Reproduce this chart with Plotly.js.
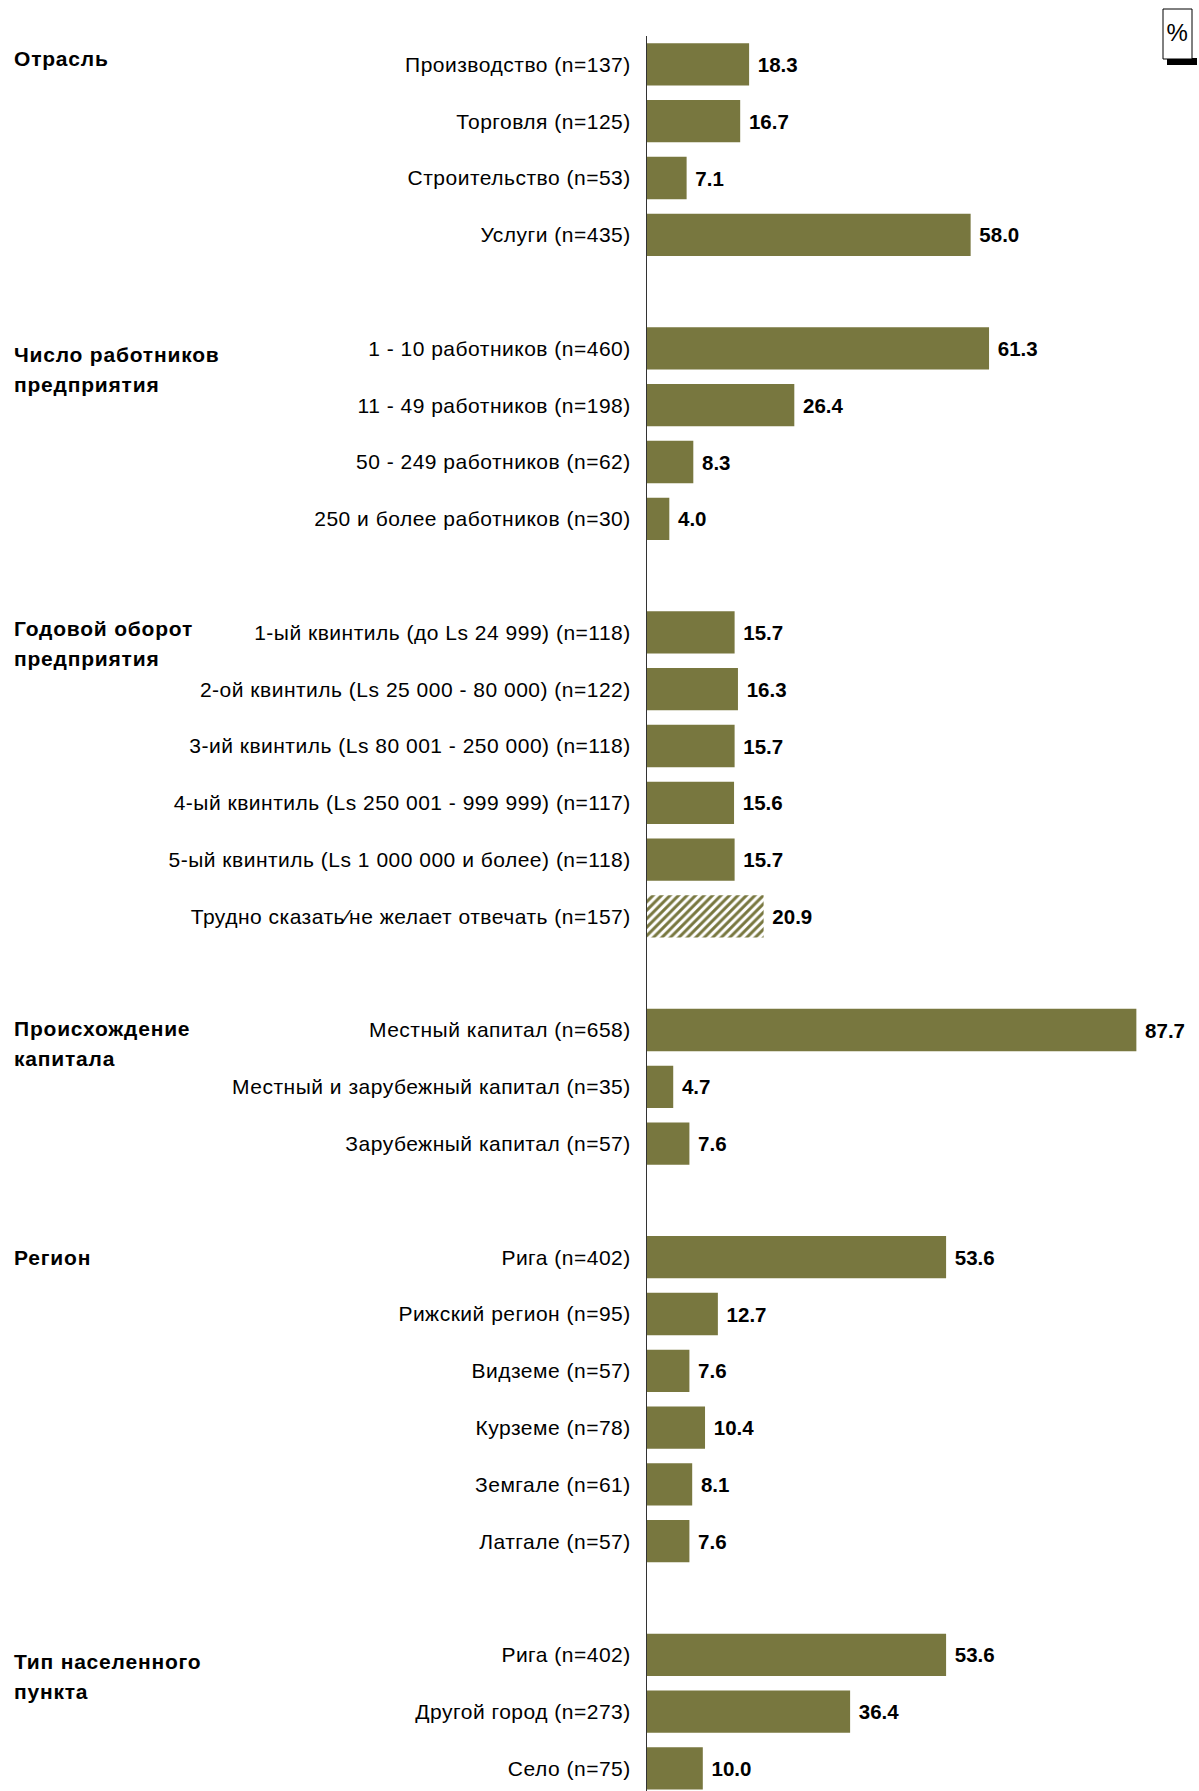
<!DOCTYPE html>
<html>
<head>
<meta charset="utf-8">
<script src="https://cdn.plot.ly/plotly-3.0.1.min.js"></script>
<style>
html,body{margin:0;padding:0;background:#fff;overflow:hidden;}
#chart{width:1199px;height:1791px;}
#chart .ytick text{letter-spacing:0.5px;}
#chart .annotation-text{letter-spacing:0.8px;}
</style>
</head>
<body>
<div id="chart"></div>
<script>
// ---- data ----
var groupTitles = [
  ["Отрасль"],
  ["Число работников", "предприятия"],
  ["Годовой оборот", "предприятия"],
  ["Происхождение", "капитала"],
  ["Регион"],
  ["Тип населенного", "пункта"]
];
var groupLabels = [
  ["Производство (n=137)", "Торговля (n=125)", "Строительство (n=53)", "Услуги (n=435)"],
  ["1 - 10 работников (n=460)", "11 - 49 работников (n=198)", "50 - 249 работников (n=62)", "250 и более работников (n=30)"],
  ["1-ый квинтиль (до Ls 24 999) (n=118)", "2-ой квинтиль (Ls 25 000 - 80 000) (n=122)", "3-ий квинтиль (Ls 80 001 - 250 000) (n=118)", "4-ый квинтиль (Ls 250 001 - 999 999) (n=117)", "5-ый квинтиль (Ls 1 000 000 и более) (n=118)", "Трудно сказать⁄не желает отвечать (n=157)"],
  ["Местный капитал (n=658)", "Местный и зарубежный капитал (n=35)", "Зарубежный капитал (n=57)"],
  ["Рига (n=402)", "Рижский регион (n=95)", "Видземе (n=57)", "Курземе (n=78)", "Земгале (n=61)", "Латгале (n=57)"],
  ["Рига (n=402)", "Другой город (n=273)", "Село (n=75)"]
];
var groupValues = [
  [18.3, 16.7, 7.1, 58.0],
  [61.3, 26.4, 8.3, 4.0],
  [15.7, 16.3, 15.7, 15.6, 15.7, 20.9],
  [87.7, 4.7, 7.6],
  [53.6, 12.7, 7.6, 10.4, 8.1, 7.6],
  [53.6, 36.4, 10.0]
];
var groupHatched = [
  [false, false, false, false],
  [false, false, false, false],
  [false, false, false, false, false, true],
  [false, false, false],
  [false, false, false, false, false, false],
  [false, false, false]
];

// ---- style ----
var OLIVE = "rgb(120,119,63)";
var FONT = "'Liberation Sans', Arial, sans-serif";
var W = 1199, H = 1791;
var M = {l: 647, r: 0, t: 36, b: 0};
var PW = W - M.l - M.r, PH = H - M.t - M.b;
var PX_PER_UNIT = 5.58;
var ROW_PX = 56.8;
function px2x(px){ return (px - M.l) / PW; }
function py2y(py){ return 1 - (py - M.t) / PH; }

// build rows (one empty slot between groups)
var ys = [], xs = [], labels = [], shapes = [], fgs = [], bgs = [], headerAnn = [];
var firstRow = [];
var pos = 0;
for (var g = 0; g < groupLabels.length; g++) {
  firstRow.push(pos);
  for (var i = 0; i < groupLabels[g].length; i++) {
    ys.push(pos);
    xs.push(groupValues[g][i]);
    labels.push(groupLabels[g][i]);
    shapes.push(groupHatched[g][i] ? "/" : "");
    fgs.push(OLIVE);
    bgs.push("#ffffff");
    pos++;
  }
  pos++;
}

var headerShift = [6, -6, 4, 2, 0, -7];
for (var g = 0; g < groupTitles.length; g++) {
  for (var k = 0; k < groupTitles[g].length; k++) {
    headerAnn.push({
      xref: "paper", yref: "y", x: 0, y: firstRow[g],
      xanchor: "left", yanchor: "middle", align: "left",
      xshift: 13 - M.l, yshift: headerShift[g] - 30 * k,
      text: "<b>" + groupTitles[g][k] + "</b>",
      showarrow: false, borderpad: 0,
      font: {family: FONT, size: 21, color: "#000"}
    });
  }
}

var trace = {
  type: "bar", orientation: "h",
  x: xs, y: ys,
  width: 0.745,
  marker: {
    color: OLIVE,
    line: {width: 0},
    pattern: {shape: shapes, fgcolor: fgs, bgcolor: bgs, fgopacity: 1, size: 6, solidity: 0.5, fillmode: "replace"}
  },
  texttemplate: "\u00A0%{x:.1f}",
  textposition: "outside",
  constraintext: "none",
  cliponaxis: false,
  textfont: {family: FONT, size: 20.5, color: "#000", weight: "bold"},
  hoverinfo: "skip"
};

var bottomRange = -0.5 + PH / ROW_PX;

var layout = {
  width: W, height: H,
  margin: M,
  paper_bgcolor: "#fff", plot_bgcolor: "#fff",
  showlegend: false,
  hovermode: false,
  font: {family: FONT, size: 20, color: "#000"},
  xaxis: {range: [0, PW / PX_PER_UNIT], visible: false, fixedrange: true},
  yaxis: {
    range: [bottomRange, -0.5],
    tickvals: ys, ticktext: labels,
    ticks: "", showgrid: false, zeroline: false,
    showline: true, linecolor: "#333", linewidth: 1,
    ticklabelstandoff: 11,
    tickfont: {family: FONT, size: 21, color: "#000"},
    fixedrange: true
  },
  shapes: [
    {type: "rect", xref: "paper", yref: "paper",
     x0: px2x(1167), x1: px2x(1197), y0: py2y(65), y1: py2y(58),
     fillcolor: "#000", line: {width: 0}},
    {type: "rect", xref: "paper", yref: "paper",
     x0: px2x(1163), x1: px2x(1192), y0: py2y(59), y1: py2y(9),
     fillcolor: "#fff", line: {color: "#000", width: 1}}
  ],
  annotations: headerAnn.concat([
    {xref: "paper", yref: "paper", x: px2x(1177.5), y: py2y(32),
     xanchor: "center", yanchor: "middle", text: "%", showarrow: false,
     font: {family: FONT, size: 24, color: "#000"}}
  ])
};

Plotly.newPlot("chart", [trace], layout, {displayModeBar: false, staticPlot: true});
</script>
</body>
</html>
